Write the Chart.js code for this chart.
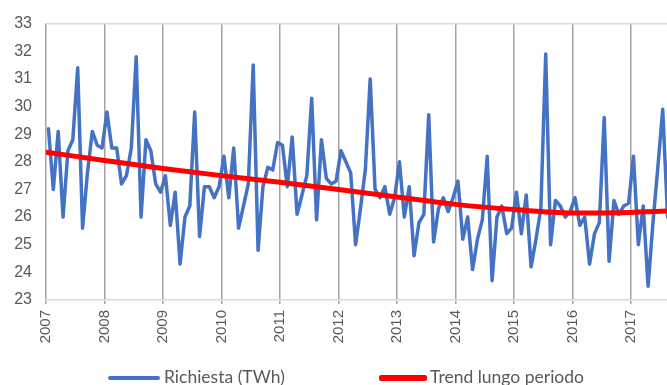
<!DOCTYPE html>
<html>
<head>
<meta charset="utf-8">
<script src="https://cdn.jsdelivr.net/npm/chart.js"></script>
<style>
  html, body { margin: 0; padding: 0; background: #ffffff; }
  #wrap { position: relative; width: 667px; height: 385px; overflow: hidden; }
  #c { position: absolute; left: 0; top: 0; }
  .lg { position: absolute; font-family: "Lato", "Liberation Sans", sans-serif; font-size: 17.5px; color: #595959; line-height: 20px; white-space: nowrap; }
  .sw { position: absolute; border-radius: 2px; }
</style>
</head>
<body>
<div id="wrap">
  <canvas id="c" width="667" height="385"></canvas>
  <div class="sw" style="left:108px; top:376px; width:52px; height:4px; background:#4472C4;"></div>
  <div class="lg" style="left:164px; top:367px;">Richiesta (TWh)</div>
  <div class="sw" style="left:379px; top:375px; width:48px; height:6px; background:#FF0000;"></div>
  <div class="lg" style="left:430px; top:367px;">Trend lungo periodo</div>
</div>
<script>
// Monthly demand (TWh), one array per year (Jan..Dec)
const years = [2007, 2008, 2009, 2010, 2011, 2012, 2013, 2014, 2015, 2016, 2017];
const d2007 = [29.2, 27.0, 29.1, 26.0, 28.4, 28.8, 31.4, 25.6, 27.6, 29.1, 28.6, 28.5];
const d2008 = [29.8, 28.5, 28.5, 27.2, 27.5, 28.5, 31.8, 26.0, 28.8, 28.4, 27.2, 26.9];
const d2009 = [27.5, 25.7, 26.9, 24.3, 26.0, 26.4, 29.8, 25.3, 27.1, 27.1, 26.7, 27.1];
const d2010 = [28.2, 26.7, 28.5, 25.6, 26.4, 27.2, 31.5, 24.8, 27.1, 27.8, 27.7, 28.7];
const d2011 = [28.6, 27.1, 28.9, 26.1, 26.8, 27.5, 30.3, 25.9, 28.8, 27.4, 27.2, 27.3];
const d2012 = [28.4, 28.0, 27.6, 25.0, 26.3, 27.7, 31.0, 27.0, 26.7, 27.1, 26.1, 26.7];
const d2013 = [28.0, 26.0, 27.1, 24.6, 25.8, 26.1, 29.7, 25.1, 26.3, 26.7, 26.2, 26.7];
const d2014 = [27.3, 25.2, 26.0, 24.1, 25.2, 25.9, 28.2, 23.7, 26.0, 26.4, 25.4, 25.6];
const d2015 = [26.9, 25.4, 26.8, 24.2, 25.2, 26.3, 31.9, 25.0, 26.6, 26.4, 26.0, 26.2];
const d2016 = [26.7, 25.7, 26.0, 24.3, 25.4, 25.8, 29.6, 24.4, 26.6, 26.1, 26.4, 26.5];
const d2017 = [28.2, 25.0, 26.4, 23.5, 25.8, 27.8, 29.9, 26.0];
const yearly = [d2007, d2008, d2009, d2010, d2011, d2012, d2013, d2014, d2015, d2016, d2017];

// Long-term trend, read at each 1 January
const trendYears  = [2007, 2008, 2009, 2010, 2011, 2012, 2013, 2014, 2015, 2016, 2017, 2018];
const trendValues = [28.35, 28.05, 27.76, 27.5, 27.26, 27.0, 26.73, 26.46, 26.27, 26.15, 26.17, 26.25];

// Axis settings
const yTicks = { min: 23, max: 33, step: 1 };
const xRange = { min: 2007, max: 2017.615 };

const richiesta = [];
yearly.forEach((arr, yi) => {
  arr.forEach((v, m) => richiesta.push({ x: years[yi] + (m + 0.5) / 12, y: v }));
});
const trend = trendYears.map((yr, i) => ({ x: yr, y: trendValues[i] }));

new Chart(document.getElementById('c'), {
  type: 'line',
  data: {
    datasets: [
      { label: 'Trend lungo periodo', data: trend, borderColor: '#FF0000', borderWidth: 5,
        pointRadius: 0, cubicInterpolationMode: 'monotone', order: 0, borderCapStyle: 'round' },
      { label: 'Richiesta (TWh)', data: richiesta, borderColor: '#4472C4', borderWidth: 3.5,
        pointRadius: 0, tension: 0, order: 1, borderJoinStyle: 'round', borderCapStyle: 'round' }
    ]
  },
  options: {
    responsive: false,
    animation: false,
    devicePixelRatio: 1,
    layout: { padding: { left: 0, right: 0, top: 18, bottom: 37 } },
    plugins: { legend: { display: false }, tooltip: { enabled: false } },
    scales: {
      x: {
        type: 'linear',
        min: xRange.min, max: xRange.max,
        afterFit: s => { s.height = 48; },
        grid: { color: '#a3a3a3', lineWidth: 1.5, drawTicks: true, tickLength: 4, tickColor: '#a3a3a3' },
        border: { color: '#d9d9d9', width: 1.5 },
        ticks: {
          stepSize: 1, includeBounds: false, minRotation: 90, maxRotation: 90, autoSkip: false,
          padding: 6, color: '#595959',
          font: { family: 'Liberation Sans', size: 15 },
          callback: v => String(v)
        }
      },
      y: {
        min: yTicks.min, max: yTicks.max,
        afterFit: s => { s.width = 46; },
        grid: { drawTicks: false, lineWidth: 1.5,
          color: ctx => (ctx.tick && ctx.tick.value === yTicks.max) ? '#d9d9d9' : 'rgba(0,0,0,0)' },
        border: { display: false },
        ticks: { stepSize: yTicks.step, padding: 14, color: '#595959',
          font: { family: 'Liberation Sans', size: 16 } }
      }
    }
  }
});
</script>
</body>
</html>
